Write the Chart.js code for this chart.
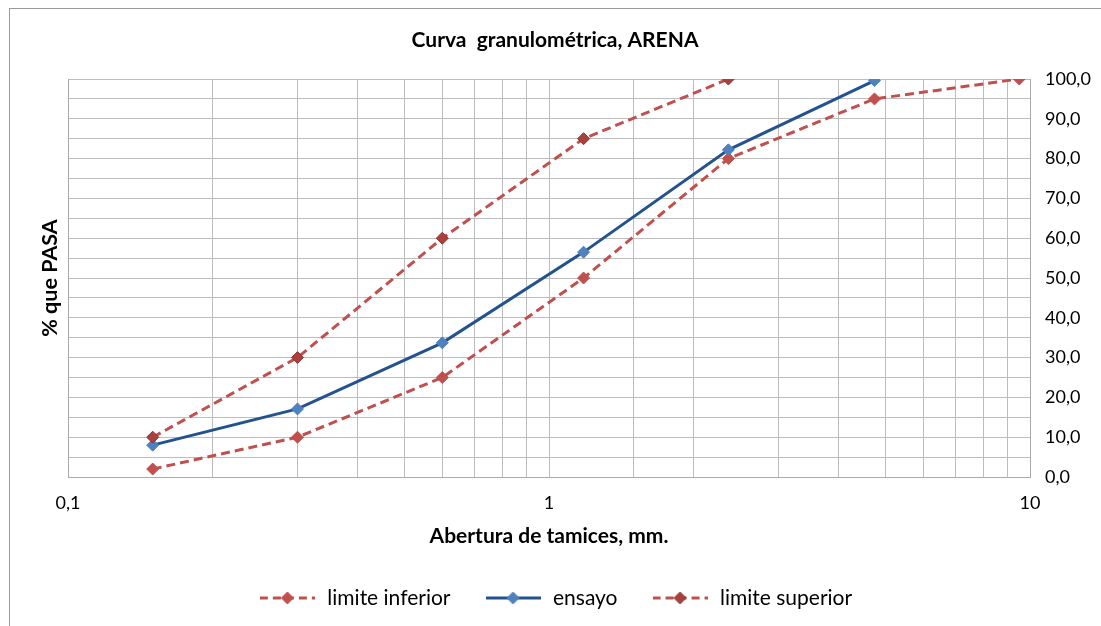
<!DOCTYPE html>
<html>
<head>
<meta charset="utf-8">
<script src="https://cdn.jsdelivr.net/npm/chart.js@4.4.1/dist/chart.umd.min.js"></script>
<style>
  html, body { margin: 0; padding: 0; background: #fff; overflow: hidden; }
  #wrap { position: relative; width: 1101px; height: 626px; }
  #frame { position: absolute; left: 9px; top: 8px; width: 1120px; height: 660px; border: 1px solid #9a9a9a; box-sizing: border-box; pointer-events: none; }
  canvas { position: absolute; left: 0; top: 0; }
</style>
</head>
<body>
<div id="wrap">
  <canvas id="c" width="1101" height="626"></canvas>
  <div id="frame"></div>
</div>
<script>
// ---- data ----
const aberturas = [0.15, 0.3, 0.6, 1.18, 2.36, 4.75, 9.5];
const limiteInferior = [2, 10, 25, 50, 80, 95, 100];
const ensayo = [8.0, 17.1, 33.7, 56.5, 82.2, 99.6];
const limiteSuperior = [10, 30, 60, 85, 100];
const xTickLabels = { 0.1: '0,1', 1: '1', 10: '10' };
const seriesNames = ['limite inferior', 'ensayo', 'limite superior'];

const FONT = 'Lato, "Open Sans", sans-serif';
const red = '#C0504D';
const redDark = '#A8403D';
const blueLine = '#24528E';
const blueMark = '#4F81BD';

function pts(vals) { return vals.map((v, i) => ({ x: aberturas[i], y: v })); }

function legendSwatch(lineColor, dashed, markFill, markStroke) {
  const cv = document.createElement('canvas');
  cv.width = 55; cv.height = 14;
  const g = cv.getContext('2d');
  g.strokeStyle = lineColor; g.lineWidth = 3;
  if (dashed) g.setLineDash([8, 5]);
  g.beginPath(); g.moveTo(0, 7); g.lineTo(55, 7); g.stroke();
  g.setLineDash([]);
  g.fillStyle = markFill; g.strokeStyle = markStroke; g.lineWidth = 1;
  g.beginPath(); g.moveTo(27.5, 1); g.lineTo(33.5, 7); g.lineTo(27.5, 13); g.lineTo(21.5, 7); g.closePath();
  g.fill(); g.stroke();
  return cv;
}
const swatches = [
  legendSwatch(red, true, red, red),
  legendSwatch(blueLine, false, blueMark, blueMark),
  legendSwatch(red, true, redDark, '#8E3431')
];

new Chart(document.getElementById('c'), {
  type: 'line',
  data: {
    datasets: [
      {
        label: seriesNames[0], data: pts(limiteInferior),
        borderColor: red, borderWidth: 3, borderDash: [9, 5],
        pointStyle: 'rectRot', pointRadius: 6, pointBackgroundColor: red, pointBorderColor: red, pointBorderWidth: 1,
        tension: 0, order: 3
      },
      {
        label: seriesNames[1], data: pts(ensayo),
        borderColor: blueLine, borderWidth: 3,
        pointStyle: 'rectRot', pointRadius: 6, pointBackgroundColor: blueMark, pointBorderColor: blueMark, pointBorderWidth: 1,
        tension: 0, order: 2
      },
      {
        label: seriesNames[2], data: pts(limiteSuperior),
        borderColor: red, borderWidth: 3, borderDash: [9, 5],
        pointStyle: 'rectRot', pointRadius: 6, pointBackgroundColor: redDark, pointBorderColor: '#8E3431', pointBorderWidth: 1,
        tension: 0, order: 1
      }
    ]
  },
  options: {
    responsive: false,
    animation: false,
    layout: { padding: { left: 9, right: 0, top: 0, bottom: 7.5 } },
    plugins: {
      tooltip: { enabled: false },
      title: {
        display: true, text: 'Curva  granulométrica, ARENA',
        font: { family: FONT, size: 21, weight: 'bold' }, color: '#000',
        padding: { top: 27.4, bottom: 26.4 }
      },
      legend: {
        position: 'bottom',
        labels: {
          usePointStyle: true, pointStyleWidth: 59, padding: 33,
          font: { family: FONT, size: 21 }, color: '#000',
          generateLabels: (chart) => chart.data.datasets.map((d, i) => ({
            text: d.label, pointStyle: swatches[i], datasetIndex: i,
            fillStyle: 'transparent', strokeStyle: 'transparent', lineWidth: 0, hidden: false
          }))
        }
      }
    },
    scales: {
      x: {
        type: 'logarithmic', position: 'bottom', min: 0.1, max: 10,
        afterFit: (s) => { s.height = 77.5; },
        grid: { color: '#bdbdbd', lineWidth: 1, drawTicks: false },
        border: { color: '#aaaaaa', width: 1 },
        ticks: {
          autoSkip: false, maxRotation: 0, padding: 15,
          font: { family: FONT, size: 18 }, color: '#000',
          callback: (v) => xTickLabels[+Number(v).toPrecision(6)] || ''
        },
        title: {
          display: true, text: 'Abertura de tamices, mm.',
          font: { family: FONT, size: 21, weight: 'bold' }, color: '#000',
          padding: { top: 0, bottom: 5.9 }
        }
      },
      y: {
        position: 'right', min: 0, max: 100,
        afterFit: (s) => { s.width = 71; },
        grid: { color: '#bdbdbd', lineWidth: 1, drawTicks: false },
        border: { color: '#aaaaaa', width: 1 },
        ticks: {
          stepSize: 5, autoSkip: false, padding: 15,
          font: { family: FONT, size: 18 }, color: '#000',
          callback: (v) => (v % 10 === 0 ? v.toFixed(1).replace('.', ',') : '')
        }
      },
      yL: {
        position: 'left', min: 0, max: 100,
        afterFit: (s) => { s.width = 59; },
        grid: { display: false, drawTicks: false },
        border: { color: '#aaaaaa', width: 1 },
        ticks: { display: false },
        title: {
          display: true, text: '% que PASA',
          font: { family: FONT, size: 21.5, weight: 'bold' }, color: '#000',
          padding: { top: 28.2, bottom: 0 }
        }
      }
    }
  }
});
</script>
</body>
</html>
